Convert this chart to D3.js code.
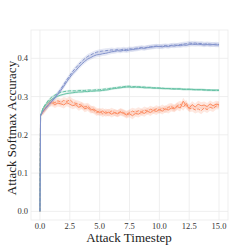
<!DOCTYPE html>
<html lang="en">
<head>
    <meta charset="UTF-8">
    <title>Attack Softmax Accuracy</title>
    <script src="https://d3js.org/d3.v7.min.js"></script>
    <style>
        body { margin: 0; background: #fff; }
        text { font-family: "Liberation Serif", "DejaVu Serif", serif; }
    </style>
</head>
<body>
    <div id="chart"></div>
    <script>
        const width = 240, height = 252;

        // timesteps: start point, first step, then every 0.25
        const timesteps = [0, 0.05].concat(d3.range(1, 61).map(i => i * 0.25));
        const startValues = [0.0, 0.25];

        const blueSolid = [
            0.262,0.270,0.279,0.288,0.296,0.306,0.316,0.327,0.339,0.350,0.360,0.368,0.377,0.385,0.392,0.398,0.402,0.406,0.409,0.410,
            0.412,0.413,0.415,0.417,0.418,0.420,0.419,0.421,0.420,0.422,0.423,0.424,0.425,0.427,0.426,0.428,0.429,0.430,0.431,0.431,
            0.430,0.432,0.431,0.433,0.432,0.434,0.433,0.435,0.434,0.436,0.437,0.436,0.437,0.436,0.435,0.436,0.435,0.436,0.435,0.435];
        const blueDashed = [
            0.262,0.271,0.280,0.289,0.298,0.309,0.320,0.332,0.344,0.355,0.366,0.375,0.384,0.392,0.399,0.405,0.409,0.413,0.416,0.418,
            0.419,0.420,0.421,0.422,0.421,0.423,0.422,0.424,0.423,0.425,0.424,0.426,0.427,0.428,0.427,0.429,0.430,0.431,0.432,0.431,
            0.432,0.433,0.432,0.434,0.435,0.434,0.436,0.437,0.438,0.440,0.439,0.440,0.438,0.439,0.437,0.438,0.437,0.436,0.437,0.436];
        const greenSolid = [
            0.268,0.279,0.287,0.293,0.298,0.301,0.304,0.306,0.308,0.309,0.310,0.311,0.312,0.312,0.313,0.313,0.314,0.314,0.315,0.315,
            0.316,0.317,0.318,0.320,0.321,0.322,0.323,0.324,0.325,0.325,0.324,0.325,0.324,0.324,0.323,0.323,0.323,0.322,0.322,0.322,
            0.321,0.321,0.321,0.320,0.320,0.320,0.320,0.319,0.319,0.319,0.319,0.318,0.318,0.318,0.318,0.317,0.317,0.317,0.317,0.317];
        const greenDashed = [
            0.270,0.282,0.292,0.299,0.304,0.308,0.311,0.313,0.314,0.315,0.315,0.315,0.316,0.316,0.316,0.317,0.317,0.317,0.318,0.318,
            0.319,0.320,0.321,0.322,0.323,0.324,0.325,0.326,0.327,0.327,0.326,0.326,0.326,0.325,0.325,0.324,0.324,0.323,0.323,0.322,
            0.322,0.321,0.321,0.321,0.320,0.320,0.320,0.319,0.319,0.319,0.318,0.318,0.318,0.318,0.317,0.317,0.317,0.316,0.316,0.316];
        const orangeSolid = [
            0.262,0.272,0.281,0.284,0.279,0.283,0.281,0.278,0.284,0.280,0.276,0.279,0.272,0.276,0.268,0.271,0.265,0.267,0.262,0.258,
            0.262,0.256,0.259,0.254,0.258,0.255,0.259,0.256,0.252,0.255,0.250,0.256,0.254,0.259,0.256,0.262,0.258,0.264,0.261,0.266,
            0.262,0.268,0.265,0.270,0.268,0.274,0.270,0.288,0.276,0.270,0.279,0.273,0.280,0.276,0.278,0.274,0.281,0.276,0.280,0.279];
        const orangeDashed = [
            0.260,0.270,0.282,0.287,0.284,0.289,0.285,0.290,0.287,0.292,0.285,0.282,0.280,0.277,0.273,0.275,0.268,0.264,0.258,0.262,
            0.255,0.260,0.257,0.262,0.258,0.256,0.261,0.258,0.254,0.258,0.262,0.259,0.263,0.260,0.265,0.262,0.267,0.264,0.268,0.265,
            0.270,0.266,0.272,0.274,0.270,0.276,0.280,0.272,0.283,0.268,0.270,0.265,0.268,0.263,0.270,0.266,0.272,0.269,0.275,0.276];

        // band half widths per series
        const bandWidths = {blue: 0.006, green: 0.003, orange: 0.009};

        const xTicks = [0, 2.5, 5, 7.5, 10, 12.5, 15];
        const yTicks = [0, 0.1, 0.2, 0.3, 0.4];

        const series = [
            {name: "orange", color: "#fc8d62", solid: orangeSolid, dashed: orangeDashed},
            {name: "green", color: "#66c2a5", solid: greenSolid, dashed: greenDashed},
            {name: "blue", color: "#8393cc", solid: blueSolid, dashed: blueDashed}
        ];

        const plot = {left: 31, right: 228, top: 30, bottom: 220};

        const x = d3.scaleLinear().domain([-0.75, 15.75]).range([plot.left, plot.right]);
        const y = d3.scaleLinear().domain([-0.0226, 0.474]).range([plot.bottom, plot.top]);

        const svg = d3.select("#chart").append("svg")
            .attr("width", width)
            .attr("height", height);

        // grid
        svg.append("g").selectAll("line")
            .data(xTicks)
            .join("line")
            .attr("x1", d => x(d)).attr("x2", d => x(d))
            .attr("y1", plot.top).attr("y2", plot.bottom)
            .attr("stroke", "#ebebeb").attr("stroke-width", 0.8);
        svg.append("g").selectAll("line")
            .data(yTicks)
            .join("line")
            .attr("y1", d => y(d)).attr("y2", d => y(d))
            .attr("x1", plot.left).attr("x2", plot.right)
            .attr("stroke", "#ebebeb").attr("stroke-width", 0.8);

        svg.append("rect")
            .attr("x", plot.left).attr("y", plot.top)
            .attr("width", plot.right - plot.left).attr("height", plot.bottom - plot.top)
            .attr("fill", "none")
            .attr("stroke", "#ebebeb").attr("stroke-width", 0.8);

        const toPoints = vals => timesteps.map((t, i) => ({t, v: i < 2 ? startValues[i] : vals[i - 2]}));

        const line = d3.line().x(d => x(d.t)).y(d => y(d.v));

        series.forEach(s => {
            const w = bandWidths[s.name];
            const area = d3.area()
                .x(d => x(d.t))
                .y0(d => y(d.v - (d.t < 0.1 ? 0 : w)))
                .y1(d => y(d.v + (d.t < 0.1 ? 0 : w)));
            [s.solid, s.dashed].forEach(vals => {
                svg.append("path")
                    .datum(toPoints(vals))
                    .attr("d", area)
                    .attr("fill", s.color)
                    .attr("fill-opacity", 0.2);
            });
        });

        series.forEach(s => {
            svg.append("path")
                .datum(toPoints(s.dashed))
                .attr("d", line)
                .attr("fill", "none")
                .attr("stroke", s.color)
                .attr("stroke-width", 1)
                .attr("stroke-dasharray", "3.5,1.5");
            svg.append("path")
                .datum(toPoints(s.solid))
                .attr("d", line)
                .attr("fill", "none")
                .attr("stroke", s.color)
                .attr("stroke-width", 1);
        });

        // tick labels
        svg.append("g").selectAll("text")
            .data(xTicks)
            .join("text")
            .attr("x", d => x(d))
            .attr("y", 229)
            .attr("text-anchor", "middle")
            .attr("font-size", 8.5)
            .attr("fill", "#333")
            .text(d => d.toFixed(1));
        svg.append("g").selectAll("text")
            .data(yTicks)
            .join("text")
            .attr("x", 28)
            .attr("y", d => y(d) + 3)
            .attr("text-anchor", "end")
            .attr("font-size", 8.5)
            .attr("fill", "#333")
            .text(d => d.toFixed(1));

        svg.append("text")
            .attr("x", 129)
            .attr("y", 242)
            .attr("text-anchor", "middle")
            .attr("font-size", 13)
            .attr("fill", "#222")
            .text("Attack Timestep");
        svg.append("text")
            .attr("transform", "translate(16,128) rotate(-90)")
            .attr("text-anchor", "middle")
            .attr("font-size", 13)
            .attr("fill", "#222")
            .text("Attack Softmax Accuracy");
    </script>
</body>
</html>
